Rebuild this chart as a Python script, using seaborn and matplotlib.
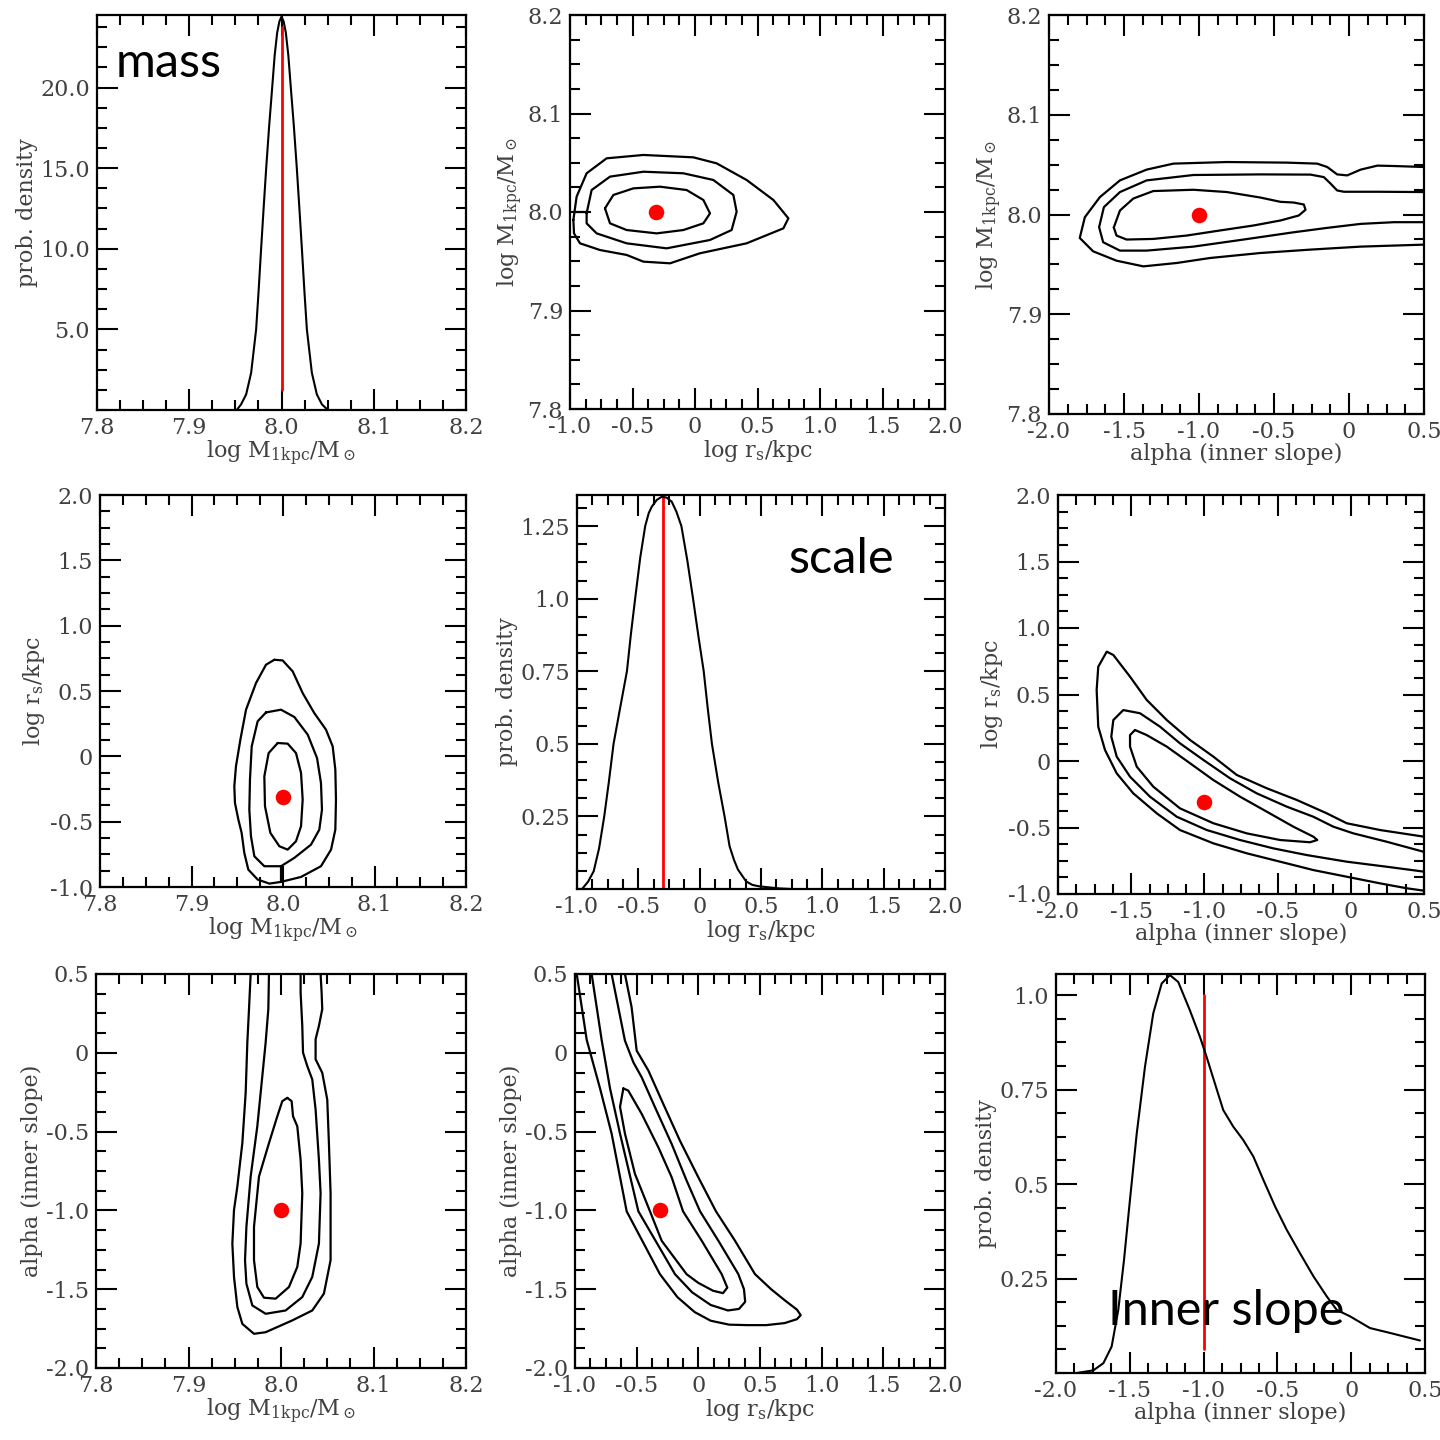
import matplotlib
matplotlib.use("Agg")
import matplotlib.pyplot as plt
from matplotlib.ticker import FixedLocator, FixedFormatter, MultipleLocator
import seaborn as sns

# ---------------- data ----------------
# 1-D marginal densities
MASS_PDF_X = [7.9515, 7.9562, 7.9617, 7.9671, 7.9725, 7.9752, 7.9779, 7.9806, 7.9834, 7.9866,
              7.9899, 7.9926, 7.9953, 7.9977, 8.0, 8.0023, 8.0047, 8.0074, 8.0101, 8.0134,
              8.0166, 8.0194, 8.0221, 8.0248, 8.0275, 8.0329, 8.0383, 8.0438, 8.0503]
MASS_PDF_Y = [0.0, 0.35, 0.97, 2.31, 5.0, 7.4, 10.0, 12.5, 15.0, 17.6,
              20.0, 22.0, 23.4, 24.1, 24.4, 24.1, 23.4, 22.0, 20.0, 17.6,
              15.0, 12.5, 10.0, 7.4, 5.0, 2.31, 0.97, 0.35, 0.0]

SCALE_PDF_X = [-0.959, -0.91, -0.864, -0.82, -0.778, -0.74, -0.702, -0.65, -0.593, -0.56,
               -0.526, -0.485, -0.444, -0.415, -0.39, -0.35, -0.309, -0.27, -0.228, -0.19,
               -0.149, -0.10, -0.054, -0.01, 0.033, 0.065, 0.10, 0.15, 0.203, 0.244,
               0.28, 0.312, 0.379, 0.43, 0.488, 0.65, 0.75]
SCALE_PDF_Y = [0.0, 0.025, 0.061, 0.14, 0.25, 0.37, 0.5, 0.62, 0.75, 0.88,
               1.0, 1.14, 1.25, 1.295, 1.317, 1.34, 1.351, 1.348, 1.334, 1.30,
               1.25, 1.13, 1.0, 0.87, 0.75, 0.625, 0.5, 0.37, 0.25, 0.147,
               0.10, 0.067, 0.026, 0.014, 0.009, 0.002, 0.0]

ALPHA_PDF_X = [-1.86, -1.747, -1.679, -1.623, -1.578, -1.539, -1.499, -1.453, -1.397, -1.341,
               -1.284, -1.228, -1.172, -1.093, -1.025, -0.980, -0.924, -0.867, -0.799, -0.732,
               -0.663, -0.595, -0.516, -0.437, -0.347, -0.256, -0.166, -0.098, -0.008, 0.127,
               0.263, 0.466]
ALPHA_PDF_Y = [0.0, 0.007, 0.026, 0.070, 0.167, 0.300, 0.458, 0.634, 0.811, 0.952,
               1.031, 1.053, 1.035, 0.960, 0.890, 0.837, 0.767, 0.696, 0.652, 0.617,
               0.573, 0.511, 0.441, 0.379, 0.317, 0.256, 0.203, 0.167, 0.150, 0.119,
               0.106, 0.086]

# best-fit markers
BEST_MASS = 8.0
BEST_RS = -0.31
BEST_ALPHA = -1.0
RS_LINE = -0.3
MASS_LINE_Y = [1.25, 23.75]
RS_LINE_Y = [0.0, 1.36]
ALPHA_LINE_Y = [0.0625, 1.0]

# 2-D credible contours: (x, y) pairs
# panel: x = log r_s, y = log M
RS_M_INNER = [(-0.72, 8.0037), (-0.653, 8.0173), (-0.493, 8.024), (-0.28, 8.0257), (-0.067, 8.0223),
              (0.067, 8.0122), (0.12, 7.9986), (0.067, 7.9885), (-0.093, 7.9817), (-0.307, 7.9783),
              (-0.547, 7.9817), (-0.68, 7.9885)]
RS_M_MID = [(-0.867, 7.9987), (-0.827, 8.0223), (-0.68, 8.0359), (-0.413, 8.0409), (-0.093, 8.0393),
            (0.147, 8.0325), (0.307, 8.0173), (0.333, 8.0003), (0.293, 7.9817), (0.12, 7.9716),
            (-0.227, 7.9631), (-0.547, 7.9682), (-0.787, 7.9783), (-0.867, 7.9885)]
RS_M_OUTER = [(-0.973, 7.992), (-0.947, 8.0156), (-0.867, 8.0393), (-0.707, 8.0545), (-0.413, 8.0579),
              (-0.013, 8.0555), (0.173, 8.0494), (0.413, 8.0325), (0.627, 8.0122), (0.747, 7.9936),
              (0.707, 7.9834), (0.413, 7.9682), (0.04, 7.9581), (-0.2, 7.9479), (-0.413, 7.9496),
              (-0.547, 7.9564), (-0.76, 7.9614), (-0.92, 7.9682), (-0.968, 7.9783)]
RS_M_LINK = [(-0.973, 8.0004), (-0.867, 8.0004)]

# panel: x = alpha, y = log M
AL_M_INNER = [(-1.568, 7.987), (-1.527, 8.004), (-1.438, 8.016), (-1.305, 8.0235), (-1.037, 8.0248),
              (-0.814, 8.0225), (-0.591, 8.017), (-0.457, 8.0127), (-0.368, 8.012), (-0.301, 8.010),
              (-0.290, 8.0047), (-0.335, 7.999), (-0.457, 7.994), (-0.636, 7.989), (-0.859, 7.984),
              (-1.082, 7.9789), (-1.305, 7.9755), (-1.483, 7.9749), (-1.550, 7.9789)]
AL_M_MID = [(0.501, 8.0225), (0.189, 8.0228), (-0.034, 8.0228), (-0.079, 8.0241), (-0.123, 8.031),
            (-0.168, 8.0375), (-0.257, 8.040), (-0.591, 8.0402), (-1.037, 8.0396), (-1.349, 8.0342),
            (-1.527, 8.0225), (-1.634, 8.0074), (-1.666, 7.9873), (-1.639, 7.9722), (-1.527, 7.9638),
            (-1.349, 7.9638), (-1.037, 7.9678), (-0.703, 7.9749), (-0.368, 7.9822), (-0.145, 7.9866),
            (0.078, 7.9906), (0.301, 7.9923), (0.501, 7.9923)]
AL_M_OUTER = [(0.501, 8.0476), (0.301, 8.0486), (0.189, 8.049), (0.078, 8.045), (-0.012, 8.0392),
              (-0.079, 8.0402), (-0.145, 8.0476), (-0.212, 8.051), (-0.413, 8.052), (-0.814, 8.0526),
              (-1.171, 8.051), (-1.349, 8.045), (-1.527, 8.0342), (-1.661, 8.0174), (-1.761, 7.9973),
              (-1.795, 7.9765), (-1.706, 7.9631), (-1.550, 7.9537), (-1.371, 7.948), (-1.148, 7.9514),
              (-0.926, 7.9564), (-0.591, 7.9614), (-0.257, 7.9648), (0.078, 7.9678), (0.501, 7.9698)]

# panel: x = log M, y = log r_s
M_RS_INNER = [(7.9942, 0.102), (8.0051, 0.097), (8.0142, 0.025), (8.0197, -0.127), (8.0215, -0.331),
              (8.0197, -0.535), (8.0142, -0.650), (8.0051, -0.714), (7.996, -0.688), (7.9862, -0.586),
              (7.9803, -0.382), (7.9796, -0.153), (7.9843, 0.025)]
M_RS_MID = [(7.9814, 0.336), (7.9978, 0.357), (8.0124, 0.301), (8.027, 0.166), (8.0372, -0.013),
            (8.0415, -0.204), (8.0426, -0.408), (8.0397, -0.561), (8.0306, -0.676), (8.0124, -0.777),
            (7.9978, -0.841), (7.9796, -0.841), (7.9687, -0.765), (7.965, -0.612), (7.9632, -0.408),
            (7.9639, -0.178), (7.9658, 0.076), (7.9723, 0.268)]
M_RS_OUTER = [(7.9905, 0.739), (7.9996, 0.734), (8.0106, 0.650), (8.0215, 0.484), (8.0342, 0.331),
              (8.047, 0.204), (8.0543, 0.076), (8.0572, -0.102), (8.0579, -0.331), (8.0572, -0.561),
              (8.0525, -0.714), (8.0415, -0.841), (8.0197, -0.923), (7.9978, -0.961), (7.9851, -0.974),
              (7.9723, -0.943), (7.9621, -0.867), (7.9577, -0.739), (7.9548, -0.586), (7.9512, -0.484),
              (7.9475, -0.357), (7.9468, -0.229), (7.9486, -0.076), (7.9534, 0.127), (7.9596, 0.357),
              (7.9705, 0.561), (7.9814, 0.701)]
M_RS_LINK = [(7.9978, -0.841), (7.9978, -0.961)]

# panel: x = alpha, y = log r_s
AL_RS_INNER = [(-1.474, 0.233), (-1.394, 0.195), (-1.257, 0.108), (-1.098, -0.017), (-0.939, -0.143),
               (-0.757, -0.268), (-0.574, -0.381), (-0.392, -0.494), (-0.256, -0.569), (-0.229, -0.594),
               (-0.279, -0.611), (-0.483, -0.594), (-0.711, -0.544), (-0.939, -0.468), (-1.167, -0.356),
               (-1.349, -0.193), (-1.462, -0.043), (-1.508, 0.108), (-1.508, 0.195)]
AL_RS_MID = [(0.496, -0.682), (0.245, -0.607), (0.017, -0.544), (-0.119, -0.494), (-0.256, -0.419),
             (-0.438, -0.343), (-0.643, -0.243), (-0.825, -0.130), (-1.007, 0.008), (-1.167, 0.133),
             (-1.303, 0.258), (-1.440, 0.359), (-1.554, 0.383), (-1.622, 0.308), (-1.636, 0.183),
             (-1.599, 0.033), (-1.508, -0.118), (-1.372, -0.268), (-1.189, -0.419), (-0.984, -0.519),
             (-0.757, -0.594), (-0.529, -0.657), (-0.302, -0.707), (-0.028, -0.757), (0.245, -0.795),
             (0.5, -0.832)]
AL_RS_OUTER = [(0.5, -0.569), (0.2, -0.519), (-0.028, -0.468), (-0.165, -0.393), (-0.369, -0.293),
               (-0.574, -0.205), (-0.779, -0.105), (-0.939, 0.033), (-1.098, 0.158), (-1.257, 0.308),
               (-1.394, 0.459), (-1.508, 0.634), (-1.622, 0.797), (-1.667, 0.822), (-1.725, 0.709),
               (-1.736, 0.534), (-1.725, 0.258), (-1.679, 0.083), (-1.599, -0.093), (-1.486, -0.243),
               (-1.326, -0.393), (-1.167, -0.519), (-0.939, -0.619), (-0.711, -0.694), (-0.483, -0.757),
               (-0.256, -0.820), (-0.028, -0.870), (0.2, -0.920), (0.382, -0.957), (0.5, -0.975)]

# panel: x = log M, y = alpha
M_AL_INNER = [(8.0068, -0.286), (8.0115, -0.307), (8.013, -0.403), (8.0176, -0.466), (8.0212, -0.679),
              (8.023, -0.891), (8.0212, -1.210), (8.0176, -1.359), (8.0086, -1.486), (7.9942, -1.560),
              (7.9816, -1.554), (7.9744, -1.486), (7.9708, -1.316), (7.9708, -1.104), (7.9762, -0.785),
              (7.987, -0.573), (7.996, -0.403), (8.0014, -0.307)]
M_AL_MID = [(7.987, 0.5), (7.9863, 0.277), (7.9834, 0.065), (7.9798, -0.148), (7.9744, -0.466),
            (7.9672, -0.785), (7.9626, -1.104), (7.9611, -1.316), (7.9626, -1.465), (7.969, -1.603),
            (7.9834, -1.656), (8.005, -1.635), (8.023, -1.550), (8.0338, -1.422), (8.041, -1.210),
            (8.0428, -0.891), (8.041, -0.679), (8.0374, -0.360), (8.0338, -0.169), (8.0284, -0.084),
            (8.0238, 0.001), (8.023, 0.171), (8.0212, 0.383), (8.0212, 0.5)]
M_AL_OUTER = [(7.9672, 0.5), (7.9654, 0.277), (7.9636, 0.065), (7.9618, -0.254), (7.9582, -0.573),
              (7.9528, -0.849), (7.9492, -0.997), (7.9474, -1.210), (7.9492, -1.422), (7.9528, -1.613),
              (7.9582, -1.720), (7.9708, -1.783), (7.9834, -1.773), (8.0122, -1.698), (8.0338, -1.635),
              (8.0464, -1.528), (8.0536, -1.316), (8.0536, -0.891), (8.0518, -0.573), (8.05, -0.297),
              (8.0446, -0.127), (8.0374, -0.041), (8.0374, 0.086), (8.041, 0.171), (8.0446, 0.277),
              (8.0439, 0.383), (8.0428, 0.5)]

# panel: x = log r_s, y = alpha
RS_AL_INNER = [(-0.608, -0.226), (-0.635, -0.343), (-0.595, -0.513), (-0.514, -0.768), (-0.392, -1.006),
               (-0.297, -1.193), (-0.095, -1.405), (0.0, -1.46), (0.12, -1.51), (0.2, -1.525),
               (0.235, -1.49), (0.189, -1.404), (0.027, -1.192), (-0.124, -1.006), (-0.216, -0.790),
               (-0.324, -0.600), (-0.459, -0.388), (-0.568, -0.240)]
RS_AL_MID = [(-0.865, 0.5), (-0.784, 0.082), (-0.716, -0.226), (-0.635, -0.513), (-0.486, -1.006),
             (-0.189, -1.405), (-0.05, -1.52), (0.1, -1.60), (0.24, -1.635), (0.33, -1.625),
             (0.38, -1.58), (0.37, -1.50), (0.324, -1.404), (0.162, -1.192), (0.014, -1.006),
             (-0.095, -0.811), (-0.216, -0.579), (-0.351, -0.346), (-0.459, -0.156), (-0.527, -0.060),
             (-0.595, 0.077), (-0.649, 0.289), (-0.703, 0.5)]
RS_AL_OUTER = [(-0.986, 0.5), (-0.905, 0.082), (-0.797, -0.226), (-0.703, -0.513), (-0.581, -1.006),
               (-0.311, -1.405), (-0.17, -1.55), (-0.03, -1.645), (0.10, -1.70), (0.25, -1.725),
               (0.40, -1.728), (0.55, -1.728), (0.70, -1.715), (0.80, -1.69), (0.83, -1.665),
               (0.80, -1.63), (0.70, -1.57), (0.59, -1.50), (0.459, -1.404), (0.297, -1.192),
               (0.143, -1.006), (0.0, -0.790), (-0.149, -0.558), (-0.284, -0.325), (-0.405, -0.113),
               (-0.5, 0.014), (-0.541, 0.289), (-0.595, 0.5)]

# axis ticks and labels
MASS_TICKS = [7.8, 7.9, 8.0, 8.1, 8.2]
MASS_LABELS = ["7.8", "7.9", "8.0", "8.1", "8.2"]
RS_TICKS = [-1.0, -0.5, 0.0, 0.5, 1.0, 1.5, 2.0]
RS_LABELS = ["-1.0", "-0.5", "0", "0.5", "1.0", "1.5", "2.0"]
ALPHA_TICKS = [-2.0, -1.5, -1.0, -0.5, 0.0, 0.5]
ALPHA_LABELS = ["-2.0", "-1.5", "-1.0", "-0.5", "0", "0.5"]
DENS_M_TICKS = [5, 10, 15, 20]
DENS_M_LABELS = ["5.0", "10.0", "15.0", "20.0"]
DENS_RS_TICKS = [0.25, 0.5, 0.75, 1.0, 1.25]
DENS_RS_LABELS = ["0.25", "0.5", "0.75", "1.0", "1.25"]
DENS_AL_TICKS = [0.25, 0.5, 0.75, 1.0]
DENS_AL_LABELS = ["0.25", "0.5", "0.75", "1.0"]

LBL_MASS = r"log M$_{\rm 1kpc}$/M$_\odot$"
LBL_RS = r"log r$_{\rm s}$/kpc"
LBL_ALPHA = "alpha (inner slope)"
LBL_DENS = "prob. density"

# ---------------- style ----------------
sns.set_theme(style="ticks")
plt.rcParams["font.family"] = ["DejaVu Serif", "DejaVu Sans"]
plt.rcParams["mathtext.fontset"] = "dejavuserif"

TXT = "#404040"
fig = plt.figure(figsize=(14.4, 14.4), dpi=100)
W = 1440.0


def add_ax(L, R, T, B):
    return fig.add_axes([L / W, 1 - B / W, (R - L) / W, (B - T) / W])


AXIS_SPEC = {
    "mass": (MASS_TICKS, MASS_LABELS, 0.025, (7.8, 8.2), LBL_MASS),
    "rs": (RS_TICKS, RS_LABELS, 0.125, (-1.0, 2.0), LBL_RS),
    "alpha": (ALPHA_TICKS, ALPHA_LABELS, 0.125, (-2.0, 0.5), LBL_ALPHA),
    "dm": (DENS_M_TICKS, DENS_M_LABELS, 1.25, (0, 24.5), LBL_DENS),
    "drs": (DENS_RS_TICKS, DENS_RS_LABELS, 0.0625, (0, 1.357), LBL_DENS),
    "dal": (DENS_AL_TICKS, DENS_AL_LABELS, 0.0625, (0, 1.056), LBL_DENS),
}


def style_axis(ax, xkey, ykey):
    xt, xl, xm, xlim, xlab = AXIS_SPEC[xkey]
    yt, yl, ym, ylim, ylab = AXIS_SPEC[ykey]
    ax.set_xlim(*xlim)
    ax.set_ylim(*ylim)
    ax.xaxis.set_major_locator(FixedLocator(xt))
    ax.xaxis.set_major_formatter(FixedFormatter(xl))
    ax.xaxis.set_minor_locator(MultipleLocator(xm))
    ax.yaxis.set_major_locator(FixedLocator(yt))
    ax.yaxis.set_major_formatter(FixedFormatter(yl))
    ax.yaxis.set_minor_locator(MultipleLocator(ym))
    ax.tick_params(which="both", direction="in", top=True, right=True,
                   color="black", width=1.5, labelsize=16, labelcolor=TXT)
    ax.tick_params(which="major", length=15)
    ax.tick_params(which="minor", length=7.5)
    ax.tick_params(axis="x", pad=5)
    ax.tick_params(axis="y", pad=5)
    for s in ax.spines.values():
        s.set_linewidth(1.6)
        s.set_color("black")
        s.set_visible(True)
    ax.set_xlabel(xlab, fontsize=16, color=TXT, labelpad=0)
    ax.set_ylabel(ylab, fontsize=16, color=TXT, labelpad=2)
    ax.grid(False)


def draw_path(ax, pts, closed=True):
    xs = [p[0] for p in pts]
    ys = [p[1] for p in pts]
    if closed:
        xs.append(xs[0])
        ys.append(ys[0])
    sns.lineplot(x=xs, y=ys, sort=False, estimator=None, ax=ax,
                 color="black", linewidth=1.6)


def draw_curve(ax, xs, ys, color="black", lw=1.5):
    sns.lineplot(x=xs, y=ys, sort=False, estimator=None, ax=ax,
                 color=color, linewidth=lw)


def draw_dot(ax, x, y):
    sns.scatterplot(x=[x], y=[y], ax=ax, color="#ff0000", s=125,
                    linewidth=0, zorder=5)


# ---------------- panels ----------------
# row 1
ax = add_ax(97, 466, 15, 410)
draw_curve(ax, [BEST_MASS, BEST_MASS], MASS_LINE_Y, color="#ff0000", lw=2)
draw_curve(ax, MASS_PDF_X, MASS_PDF_Y)
style_axis(ax, "mass", "dm")

ax = add_ax(570, 945, 15, 409)
draw_path(ax, RS_M_INNER)
draw_path(ax, RS_M_MID)
draw_path(ax, RS_M_OUTER)
draw_path(ax, RS_M_LINK, closed=False)
draw_dot(ax, BEST_RS, BEST_MASS)
style_axis(ax, "rs", "mass")

ax = add_ax(1049, 1424, 15, 414)
draw_path(ax, AL_M_INNER)
draw_path(ax, AL_M_MID, closed=False)
draw_path(ax, AL_M_OUTER, closed=False)
draw_dot(ax, BEST_ALPHA, BEST_MASS)
style_axis(ax, "alpha", "mass")

# row 2
ax = add_ax(100, 466, 495, 887)
draw_path(ax, M_RS_INNER)
draw_path(ax, M_RS_MID)
draw_path(ax, M_RS_OUTER)
draw_path(ax, M_RS_LINK, closed=False)
draw_dot(ax, BEST_MASS, BEST_RS)
style_axis(ax, "mass", "rs")

ax = add_ax(577, 945, 495, 889)
draw_curve(ax, [RS_LINE, RS_LINE], RS_LINE_Y, color="#ff0000", lw=2)
draw_curve(ax, SCALE_PDF_X, SCALE_PDF_Y)
style_axis(ax, "rs", "drs")

ax = add_ax(1058, 1424, 495, 894)
draw_path(ax, AL_RS_INNER)
draw_path(ax, AL_RS_MID, closed=False)
draw_path(ax, AL_RS_OUTER, closed=False)
draw_dot(ax, BEST_ALPHA, BEST_RS)
style_axis(ax, "alpha", "rs")

# row 3
ax = add_ax(96, 466, 974, 1368)
draw_path(ax, M_AL_INNER)
draw_path(ax, M_AL_MID, closed=False)
draw_path(ax, M_AL_OUTER, closed=False)
draw_dot(ax, BEST_MASS, BEST_ALPHA)
style_axis(ax, "mass", "alpha")

ax = add_ax(575, 945, 974, 1368)
draw_path(ax, RS_AL_INNER)
draw_path(ax, RS_AL_MID, closed=False)
draw_path(ax, RS_AL_OUTER, closed=False)
draw_dot(ax, BEST_RS, BEST_ALPHA)
style_axis(ax, "rs", "alpha")

ax = add_ax(1056, 1425, 974, 1373)
draw_curve(ax, [BEST_ALPHA, BEST_ALPHA], ALPHA_LINE_Y, color="#ff0000", lw=2)
draw_curve(ax, ALPHA_PDF_X, ALPHA_PDF_Y)
style_axis(ax, "alpha", "dal")

# panel annotations
for txt, px, py in [("mass", 116, 77), ("scale", 788, 573), ("Inner slope", 1108, 1325)]:
    fig.text(px / W, 1 - py / W, txt, fontsize=35, family=["Lato", "DejaVu Sans"],
             color="black", ha="left", va="baseline")

fig.savefig("out.png", dpi=100)
